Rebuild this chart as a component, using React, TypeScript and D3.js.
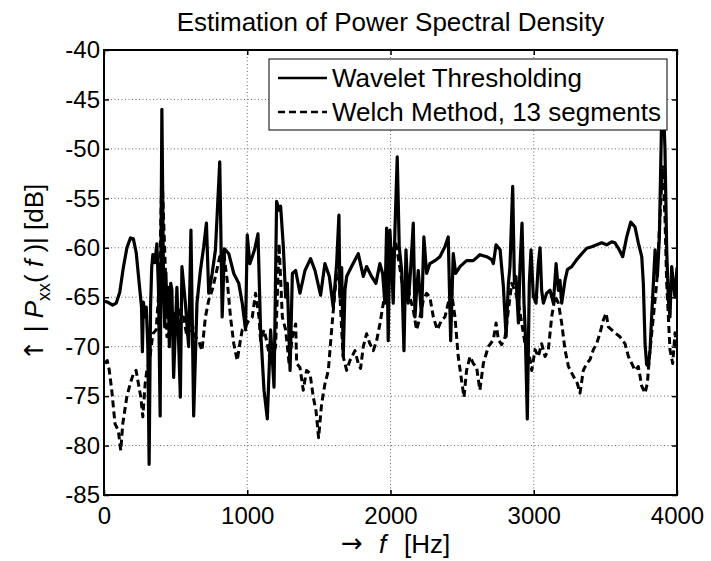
import { useEffect, useRef } from 'react';
import * as d3 from 'd3';

// Wavelet thresholding estimate (solid)
const waveletFreq = [
  0, 25, 60, 85, 110, 135, 160, 185, 205, 225, 245, 262, 268, 275, 285, 295, 306, 315, 325, 333,
  341, 355, 369, 380, 392, 398, 404, 410, 416, 424, 432, 440, 448, 456, 466, 474, 486, 509, 533, 544,
  568, 591, 607, 626, 649, 673, 696, 715, 731, 755, 778, 808, 825, 841, 871, 906, 941, 965, 988, 1000,
  1018, 1035, 1051, 1075, 1093, 1117, 1140, 1163, 1187, 1205, 1222, 1233, 1252, 1268, 1280, 1299, 1315, 1338, 1368, 1403,
  1442, 1473, 1512, 1542, 1573, 1600, 1624, 1640, 1647, 1659, 1670, 1682, 1694, 1728, 1775, 1810, 1833, 1868, 1898, 1926,
  1945, 1961, 1973, 1984, 1996, 2008, 2019, 2031, 2047, 2061, 2078, 2094, 2108, 2124, 2140, 2159, 2171, 2182, 2194, 2217,
  2233, 2252, 2275, 2310, 2345, 2380, 2403, 2420, 2438, 2455, 2485, 2531, 2578, 2624, 2672, 2706, 2718, 2737, 2765, 2788,
  2807, 2823, 2834, 2853, 2865, 2876, 2893, 2904, 2918, 2932, 2941, 2955, 2969, 2981, 2997, 3016, 3032, 3044, 3055, 3067,
  3090, 3114, 3137, 3156, 3172, 3183, 3195, 3218, 3235, 3265, 3300, 3335, 3370, 3405, 3440, 3474, 3509, 3544, 3567, 3591,
  3621, 3649, 3677, 3707, 3730, 3754, 3765, 3777, 3788, 3800, 3812, 3823, 3835, 3847, 3863, 3877, 3893, 3905, 3916, 3928,
  3940, 3951, 3963, 3975, 3986, 4000
];
const waveletDb = [
  -65.4, -65.5, -65.8, -65.6, -64.5, -62, -60, -59, -59.1, -60.5, -63.5, -66, -70.5, -65.5, -67, -66, -70, -81.9, -66, -62,
  -60.7, -61.5, -59.6, -64, -77, -60, -46, -55, -64.3, -68, -62.5, -67, -64, -70, -63.6, -64.3, -73.1, -64, -75.1, -61.9,
  -65.6, -70, -58.2, -77, -65.6, -62.3, -59.9, -57.5, -64.6, -62.6, -60.2, -51.3, -67, -60.1, -60.6, -62.6, -63.6, -65.6, -68.3, -58.7,
  -61.6, -60.9, -60.2, -58.6, -68.3, -74.4, -77.3, -68.3, -74.1, -55.3, -56.2, -55.8, -59.9, -65, -63.6, -72.4, -62.6, -62.3, -64.6, -62.3,
  -61.1, -62.3, -64.8, -61.6, -62.9, -66, -61.6, -56.7, -65, -62, -71, -64.3, -62.9, -61.9, -60.6, -62.9, -61.9, -62.9, -63.6, -61.6,
  -62.6, -65.6, -58, -69.4, -58.2, -61.6, -65.6, -58.2, -50.8, -59.9, -62.3, -70.4, -60.2, -65.6, -62.3, -57.5, -67, -64.3, -62.3, -67,
  -58.9, -62.6, -61.6, -61.3, -60.9, -59.9, -58.9, -69.4, -60.6, -62.6, -61.9, -61.3, -61.3, -60.7, -60.9, -61.2, -61.6, -59.7, -60.2, -63.9,
  -69, -63.6, -61.9, -53.8, -63.6, -62.9, -67.6, -61.9, -57.5, -65.6, -68.6, -77.3, -63.6, -60.2, -64.9, -65.6, -61.6, -60, -64.3, -65.6,
  -64.6, -64.3, -65.6, -61.6, -64.3, -63.3, -65.6, -63.3, -62.2, -61.9, -61.2, -60.6, -60.05, -59.9, -59.7, -59.5, -59.7, -59.4, -59.5, -60.05,
  -60.9, -58.9, -57.4, -57.9, -59.5, -60.9, -63.6, -69.7, -71.8, -72, -70.3, -67, -63.6, -60.2, -62.9, -58.9, -46.7, -45.5, -50, -60.2,
  -65.3, -67, -61.9, -63.6, -65, -62
];

// Welch method, 13 segments (dashed)
const welchFreq = [
  7, 23, 37, 54, 77, 100, 117, 131, 159, 182, 206, 224, 241, 257, 271, 287, 299, 318, 341, 364,
  388, 404, 427, 439, 463, 486, 514, 533, 556, 579, 614, 638, 661, 684, 708, 731, 755, 778, 808, 836,
  860, 883, 906, 930, 948, 965, 988, 1011, 1035, 1058, 1082, 1093, 1117, 1140, 1163, 1198, 1222, 1245, 1268, 1292,
  1315, 1338, 1345, 1368, 1391, 1414, 1438, 1461, 1480, 1498, 1519, 1542, 1566, 1589, 1605, 1624, 1642, 1659, 1670, 1694,
  1717, 1752, 1775, 1791, 1810, 1833, 1856, 1880, 1903, 1926, 1950, 1973, 1996, 2019, 2038, 2061, 2089, 2112, 2136, 2159,
  2182, 2206, 2229, 2252, 2275, 2299, 2327, 2357, 2380, 2403, 2427, 2450, 2473, 2496, 2513, 2531, 2555, 2578, 2601, 2624,
  2648, 2683, 2718, 2737, 2753, 2776, 2800, 2823, 2846, 2869, 2893, 2916, 2939, 2962, 2986, 3009, 3032, 3055, 3079, 3102,
  3125, 3149, 3172, 3195, 3218, 3242, 3277, 3304, 3323, 3346, 3370, 3393, 3416, 3439, 3463, 3486, 3505, 3521, 3544, 3567,
  3602, 3637, 3661, 3684, 3707, 3730, 3754, 3777, 3793, 3812, 3835, 3858, 3881, 3900, 3916, 3928, 3951, 3970, 3986, 4000
];
const welchDb = [
  -71.7, -71.4, -72.4, -74.4, -77.8, -78.5, -80.5, -77.8, -75.1, -73.8, -72.7, -72.4, -73.8, -75.1, -77.1, -73.8, -72.4, -71.4, -68.7, -68.3,
  -63.3, -52.1, -61.6, -69, -68.3, -67, -65.6, -67.7, -67, -69, -67.7, -69, -69.4, -70.4, -67, -65.3, -64.3, -62.9, -60.9, -60.6,
  -63.3, -67, -69.7, -71.4, -69.7, -68.3, -68, -67.3, -67, -64.6, -67, -69.4, -68.3, -69.7, -71.7, -70, -59.6, -67, -68.3, -71.7,
  -69, -67.7, -71.7, -72.1, -74.4, -72.4, -72.7, -75.1, -76.5, -79.2, -75.8, -73.8, -72.4, -68.3, -65.6, -62.6, -63.3, -68.3, -71, -72.4,
  -71.4, -70.4, -71.7, -72.2, -70, -68.7, -69.7, -70.4, -69.4, -67.7, -65.6, -63.3, -62.3, -59.9, -59.6, -61.6, -64.3, -63.3, -65, -66.3,
  -68.3, -67, -65.3, -64.6, -65, -67, -68.3, -67.3, -67, -65.6, -64.6, -67, -71, -73.4, -75.1, -72.4, -71, -71.7, -72.1, -74.4,
  -71.7, -70, -69.3, -67.6, -69.3, -69.8, -69, -66.3, -63.6, -64.3, -65.6, -67.6, -69.7, -70.3, -72.4, -70.3, -71, -69.7, -71, -70.3,
  -67, -64.9, -65.6, -67.6, -70.3, -72, -73, -73.7, -74.7, -72.4, -71.7, -71.3, -70.3, -69.7, -68.6, -67.3, -66.6, -68, -68.3, -68.6,
  -69, -69.7, -71, -71.7, -72.4, -72, -74, -74.7, -73.7, -70.3, -67, -63.6, -56.9, -51.8, -56.9, -63.6, -70.3, -71.7, -68.6, -70.3
];

const xTicks = [0, 1000, 2000, 3000, 4000];
const yTicks = [-85, -80, -75, -70, -65, -60, -55, -50, -45, -40];
const legendLabels = ['Wavelet Thresholding', 'Welch Method, 13 segments'];

const FONT = '"Liberation Sans", Arial, Helvetica, sans-serif';
const ARROW_FONT = '"DejaVu Sans", sans-serif';

const App = () => {
  const ref = useRef<SVGSVGElement>(null);

  useEffect(() => {
    if (!ref.current) return;
    const root = d3.select(ref.current);
    root.selectAll('*').remove();

    const W = 711;
    const H = 561;
    const margin = { top: 50, right: 34, bottom: 66, left: 104 };
    const width = W - margin.left - margin.right;
    const height = H - margin.top - margin.bottom;

    root.append('rect').attr('width', W).attr('height', H).attr('fill', '#fff');

    const x = d3.scaleLinear().domain([0, 4000]).range([0, width]);
    const y = d3.scaleLinear().domain([-85, -40]).range([height, 0]);

    const g = root.append('g').attr('transform', `translate(${margin.left},${margin.top})`);

    // title
    root.append('text')
      .attr('x', margin.left + width / 2)
      .attr('y', 31)
      .attr('text-anchor', 'middle')
      .style('font-family', FONT)
      .style('font-size', '26px')
      .text('Estimation of Power Spectral Density');

    // dotted grid
    g.append('g')
      .selectAll('line')
      .data(xTicks.slice(1, -1))
      .enter()
      .append('line')
      .attr('x1', d => x(d)).attr('x2', d => x(d))
      .attr('y1', 0).attr('y2', height)
      .attr('stroke', '#666')
      .attr('stroke-width', 1)
      .attr('stroke-dasharray', '1,2.5');

    g.append('g')
      .selectAll('line')
      .data(yTicks.slice(1, -1))
      .enter()
      .append('line')
      .attr('x1', 0).attr('x2', width)
      .attr('y1', d => y(d)).attr('y2', d => y(d))
      .attr('stroke', '#666')
      .attr('stroke-width', 1)
      .attr('stroke-dasharray', '1,2.5');

    // clip
    root.append('defs').append('clipPath').attr('id', 'plot-clip')
      .append('rect').attr('width', width).attr('height', height);

    const welch = welchFreq.map((f, i) => [f, welchDb[i]] as [number, number]);
    const wavelet = waveletFreq.map((f, i) => [f, waveletDb[i]] as [number, number]);

    const line = d3.line<[number, number]>()
      .x(d => x(d[0]))
      .y(d => y(d[1]));

    const lines = g.append('g').attr('clip-path', 'url(#plot-clip)');

    lines.append('path')
      .datum(welch)
      .attr('fill', 'none')
      .attr('stroke', '#000')
      .attr('stroke-width', 3)
      .attr('stroke-dasharray', '7,4')
      .attr('stroke-linejoin', 'round')
      .attr('d', line);

    lines.append('path')
      .datum(wavelet)
      .attr('fill', 'none')
      .attr('stroke', '#000')
      .attr('stroke-width', 3.2)
      .attr('stroke-linejoin', 'round')
      .attr('d', line);

    // axes box with inward ticks
    const tickLen = 5;
    const axisStyle = (sel: d3.Selection<SVGGElement, unknown, null, undefined>) => {
      sel.select('.domain').remove();
      sel.selectAll('.tick line').attr('stroke', '#000').attr('stroke-width', 1.5);
      sel.selectAll('.tick text')
        .style('font-family', FONT)
        .style('font-size', '24px')
        .attr('fill', '#000');
    };

    g.append('g')
      .attr('transform', `translate(0,${height})`)
      .call(d3.axisBottom(x).tickValues(xTicks).tickSize(-tickLen).tickPadding(12).tickFormat(d => String(d)))
      .call(axisStyle);

    g.append('g')
      .call(d3.axisTop(x).tickValues(xTicks).tickSize(-tickLen).tickFormat(() => ''))
      .call(axisStyle);

    g.append('g')
      .call(d3.axisLeft(y).tickValues(yTicks).tickSize(-tickLen).tickPadding(4).tickFormat(d => String(d)))
      .call(axisStyle);

    g.append('g')
      .attr('transform', `translate(${width},0)`)
      .call(d3.axisRight(y).tickValues(yTicks).tickSize(-tickLen).tickFormat(() => ''))
      .call(axisStyle);

    g.append('rect')
      .attr('width', width)
      .attr('height', height)
      .attr('fill', 'none')
      .attr('stroke', '#000')
      .attr('stroke-width', 2);

    // legend
    const legend = root.append('g').attr('transform', 'translate(269,59)');
    legend.append('rect')
      .attr('width', 398)
      .attr('height', 71)
      .attr('fill', '#fff')
      .attr('stroke', '#000')
      .attr('stroke-width', 1);

    legendLabels.forEach((label, i) => {
      const cy = 19 + i * 34;
      legend.append('line')
        .attr('x1', 9).attr('x2', 58)
        .attr('y1', cy).attr('y2', cy)
        .attr('stroke', '#000')
        .attr('stroke-width', 2.6)
        .attr('stroke-dasharray', i === 1 ? '7,4' : null);
      legend.append('text')
        .attr('x', 63)
        .attr('y', cy + 9)
        .style('font-family', FONT)
        .style('font-size', '26px')
        .text(label);
    });

    // x label
    const xLabelY = 553;
    root.append('text')
      .attr('x', 352).attr('y', xLabelY - 1)
      .attr('text-anchor', 'middle')
      .style('font-family', ARROW_FONT).style('font-size', '26px')
      .text('\u2192');
    root.append('text')
      .attr('x', 379).attr('y', xLabelY)
      .style('font-family', FONT).style('font-size', '26px').style('font-style', 'italic')
      .text('f');
    root.append('text')
      .attr('x', 404).attr('y', xLabelY)
      .style('font-family', FONT).style('font-size', '26px')
      .text('[Hz]');

    // y label
    const yl = root.append('text')
      .attr('transform', `translate(43,${margin.top + height / 2}) rotate(-90)`)
      .attr('text-anchor', 'middle')
      .style('font-family', FONT)
      .style('font-size', '26px');
    yl.append('tspan').style('font-family', ARROW_FONT).text('\u2191');
    yl.append('tspan').text(' | ');
    yl.append('tspan').style('font-style', 'italic').text('P');
    yl.append('tspan').attr('dy', 7).style('font-size', '18px').text('xx');
    yl.append('tspan').attr('dy', -7).text('( ');
    yl.append('tspan').style('font-style', 'italic').text('f');
    yl.append('tspan').text(' )| [dB]');
  }, []);

  return (
    <svg
      ref={ref}
      width={711}
      height={561}
      style={{ position: 'absolute', left: 0, top: 0, display: 'block' }}
    />
  );
};

export default App;
